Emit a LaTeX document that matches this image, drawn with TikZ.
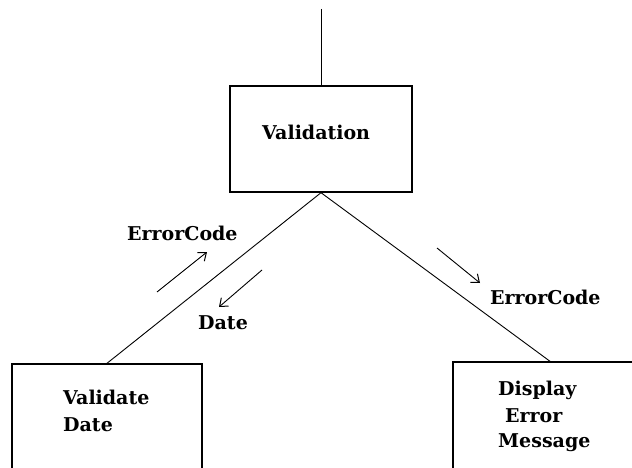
\documentclass[tikz,border=0pt]{standalone}
\usepackage{fontspec}
\setmainfont{DejaVu Serif}
\usetikzlibrary{arrows.meta}
\begin{document}
\begin{tikzpicture}[x=1pt,y=-1pt,
  box/.style={draw,line width=1.4pt,inner sep=0pt,anchor=center},
  lbl/.style={anchor=base west,inner sep=0pt,font=\bfseries\fontsize{19}{24}\selectfont},
  conn/.style={line width=0.9pt},
  flow/.style={line width=0.9pt,-{Straight Barb[length=7pt,width=11pt,line width=1pt]}}]
\useasboundingbox (0,0) rectangle (632,468);
\clip (0,0) rectangle (632,468);
\fill[white] (0,0) rectangle (632,468);
% boxes
\node[box,minimum width=182pt,minimum height=106pt] (val) at (321,139) {};
\node[box,minimum width=190pt,minimum height=116pt] (vd) at (107,422) {};
\node[box,minimum width=194pt,minimum height=118pt] (dem) at (550,421) {};
% box texts
\node[lbl] (tval) at (262,140) {Validation};
\node[lbl] (tvd1) at (63,404) {Validate};
\node[lbl] (tvd2) at (63,431) {Date};
\node[lbl] (tdem1) at (498,395) {Display};
\node[lbl] (tdem2) at (505,422) {Error};
\node[lbl] (tdem3) at (498,447) {Message};
% connectors
\coordinate (in) at (321,9);
\draw[conn] (in) -- (val.north);
\draw[conn] (val.south) -- (vd.north);
\draw[conn] (val.south) -- (dem.north);
% flow arrows
\coordinate (a1s) at (157,292); \coordinate (a1e) at (207,252);
\coordinate (a2s) at (262,270); \coordinate (a2e) at (219,307);
\coordinate (a3s) at (437,248); \coordinate (a3e) at (480,283);
\draw[flow] (a1s) -- (a1e);
\draw[flow] (a2s) -- (a2e);
\draw[flow] (a3s) -- (a3e);
% flow labels
\node[lbl] (ec1) at (127,240) {ErrorCode};
\node[lbl] (dt) at (198,329) {Date};
\node[lbl] (ec2) at (490,304) {ErrorCode};
\end{tikzpicture}
\end{document}
